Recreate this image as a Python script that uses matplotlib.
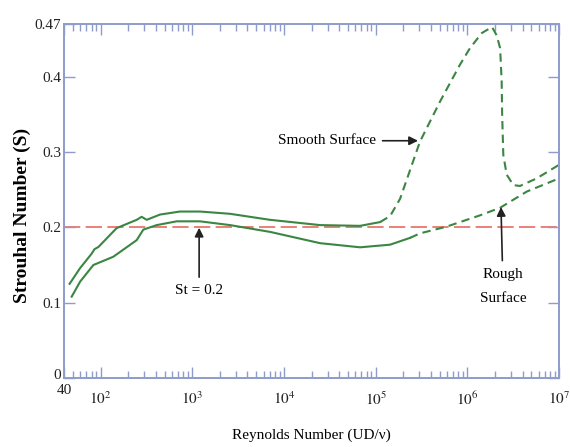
import matplotlib
matplotlib.use("Agg")
import matplotlib.pyplot as plt
import matplotlib.transforms as mtransforms
from matplotlib.ticker import FixedLocator, LogLocator, NullFormatter

plt.rcParams["font.family"] = ["Liberation Serif", "DejaVu Serif"]
plt.rcParams["mathtext.fontset"] = "stix"

# Strouhal number vs Reynolds number for a circular cylinder
smooth_re = [46, 60, 80, 86, 95, 150, 248, 281, 319, 446, 736, 1217, 2585,
             7050, 24800, 67600, 112000]
smooth_st = [0.125, 0.146, 0.165, 0.171, 0.174, 0.199, 0.210, 0.214, 0.210,
             0.217, 0.221, 0.221, 0.218, 0.210, 0.203, 0.202, 0.207]

smooth_re_dash = [112000, 144000, 185000, 305000, 504000, 832000, 1070000,
                  1440000, 1860000, 2090000, 2280000, 2370000, 2400000,
                  2470000, 2690000, 3180000, 3760000, 5710000, 10000000]
smooth_st_dash = [0.207, 0.215, 0.238, 0.314, 0.367, 0.416, 0.438, 0.458,
                  0.466, 0.455, 0.438, 0.394, 0.349, 0.296, 0.270, 0.256,
                  0.255, 0.265, 0.283]

rough_re = [48.5, 60, 83.6, 138, 248, 293, 410, 677, 1217, 2585, 7050, 24800,
            67600, 144000, 237000]
rough_st = [0.108, 0.128, 0.150, 0.161, 0.183, 0.197, 0.203, 0.208, 0.208,
            0.203, 0.194, 0.179, 0.1735, 0.177, 0.186]

rough_re_dash = [237000, 305000, 596000, 1380000, 2280000, 4450000, 10000000]
rough_st_dash = [0.186, 0.192, 0.201, 0.216, 0.226, 0.2475, 0.265]

st_ref = 0.2

xtick_vals = [40, 1e2, 1e3, 1e4, 1e5, 1e6, 1e7]
xtick_text = ["40", "$10^{2}$", "$10^{3}$", "$10^{4}$", "$10^{5}$",
              "$10^{6}$", "$10^{7}$"]
ytick_vals = [0, 0.1, 0.2, 0.3, 0.4, 0.47]
ytick_text = ["0", "0.1", "0.2", "0.3", "0.4", "0.47"]

green = "#3a8642"
spine_col = "#8e9ccc"

fig = plt.figure(figsize=(5.7, 4.47), dpi=100)
ax = fig.add_axes([0.1123, 0.1544, 0.8684, 0.7919])

ax.set_xscale("log")
ax.set_xlim(40, 1e7)
ax.set_ylim(0, 0.47)

ax.axhline(st_ref, color="#e8766c", lw=1.3, ls=(0, (9, 3)), zorder=1)

ax.plot(smooth_re, smooth_st, color=green, lw=1.5, zorder=2)
ax.plot(smooth_re_dash, smooth_st_dash, color=green, lw=1.5,
        ls=(0, (4, 2.5)), zorder=2)
ax.plot(rough_re, rough_st, color=green, lw=1.5, zorder=2)
ax.plot(rough_re_dash, rough_st_dash, color=green, lw=1.5,
        ls=(0, (4, 2.5)), zorder=2)

arrow = dict(arrowstyle="-|>", color="#222222", lw=1.2, mutation_scale=13,
             shrinkA=3, shrinkB=0)
ax.annotate("Smooth Surface", xy=(2.9e5, 0.315), xytext=(1.0e5, 0.315),
            ha="right", va="center", fontsize=11, arrowprops=arrow)
ax.annotate("St = 0.2", xy=(1190, 0.1995), xytext=(1190, 0.116),
            ha="center", va="center", fontsize=11, arrowprops=arrow)
ax.annotate("Rough\nSurface", xy=(2.33e6, 0.227), xytext=(2.45e6, 0.122),
            ha="center", va="center", fontsize=11, linespacing=2.1,
            arrowprops=arrow)

ax.xaxis.set_major_locator(FixedLocator(xtick_vals))
ax.set_xticklabels(xtick_text)
ax.xaxis.set_minor_locator(LogLocator(base=10, subs=range(2, 10), numticks=20))
ax.xaxis.set_minor_formatter(NullFormatter())
ax.set_yticks(ytick_vals)
ax.set_yticklabels(ytick_text)

ax.tick_params(which="both", direction="in", top=True, right=True,
               colors=spine_col, labelcolor="#222222", labelsize=11)
ax.tick_params(which="major", length=8, width=1)
ax.tick_params(which="minor", length=5, width=1)
ax.tick_params(axis="y", pad=2)
ax.tick_params(axis="x", pad=9)
for s in ax.spines.values():
    s.set_color(spine_col)
    s.set_linewidth(1.4)

# "40" sits higher than the decade labels, "0" just above it
x_labels = ax.get_xticklabels()
x_labels[0].set_transform(x_labels[0].get_transform() +
                          mtransforms.ScaledTranslation(0, 5 / 72, fig.dpi_scale_trans))
y_labels = ax.get_yticklabels()
y_labels[0].set_transform(y_labels[0].get_transform() +
                          mtransforms.ScaledTranslation(0, 3 / 72, fig.dpi_scale_trans))

ax.set_xlabel("Reynolds Number (UD/ν)", fontsize=11, labelpad=15)
ax.set_ylabel("Strouhal Number (S)", fontsize=14, fontweight="bold")
ax.yaxis.set_label_coords(-0.066, 0.46)

fig.savefig("out.png", dpi=100)
